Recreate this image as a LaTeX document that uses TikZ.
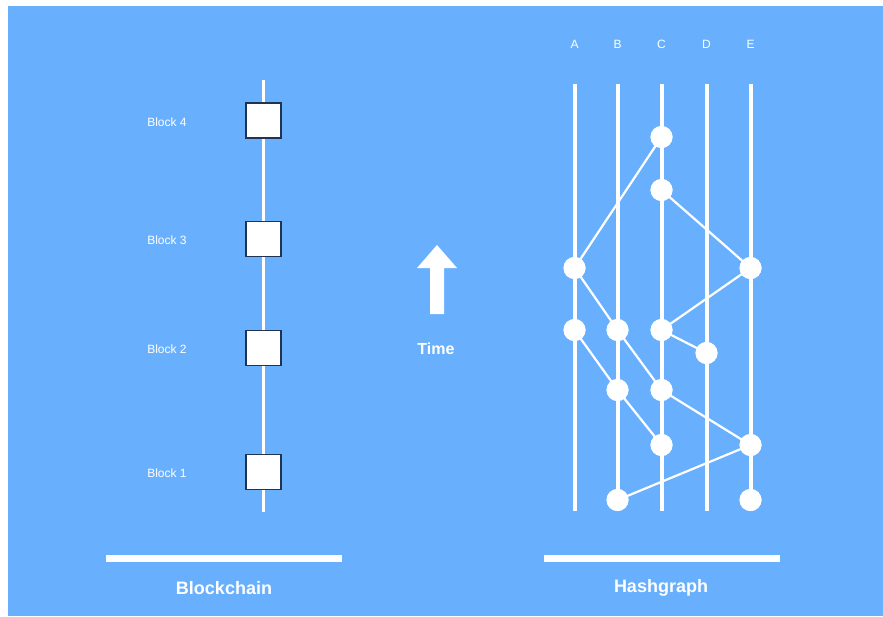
\documentclass[tikz,border=0pt]{standalone}
\usepackage{fontspec}
\setmainfont{Liberation Sans}
\definecolor{skyblue}{HTML}{68B0FE}
\definecolor{boxedge}{HTML}{1E3452}
\begin{document}
\begin{tikzpicture}[x=1pt,y=-1pt,
  lbl/.style={text=white,font=\fontsize{12}{14}\selectfont,inner sep=0pt},
  title/.style={text=white,font=\fontsize{18}{20}\selectfont\bfseries,inner sep=0pt},
  blockbox/.style={draw=boxedge,line width=1.1pt,fill=white,minimum size=35pt,inner sep=0pt},
  chain/.style={draw=white,line width=3.5pt},
  lane/.style={draw=white,line width=4pt},
  evt/.style={circle,fill=white,minimum size=22pt,inner sep=0pt},
  gossip/.style={draw=white,line width=2.2pt},
  bar/.style={fill=white}]
\useasboundingbox (0,0) rectangle (883,616);
\fill[white] (0,0) rectangle (883,616);
\fill[skyblue] (8,6) rectangle (883,616);

% ---- blockchain column ----
\coordinate (chaintop) at (263.5,80);
\coordinate (chainbot) at (263.5,512);
\draw[chain] (chaintop) -- (chainbot);
\node[blockbox] (b4) at (263.5,120.5) {};
\node[blockbox] (b3) at (263.5,239) {};
\node[blockbox] (b2) at (263.5,348) {};
\node[blockbox] (b1) at (263.5,472) {};
\node[lbl] (l4) at (167,122) {Block 4};
\node[lbl] (l3) at (167,240) {Block 3};
\node[lbl] (l2) at (167,349) {Block 2};
\node[lbl] (l1) at (167,473) {Block 1};
\fill[bar] (106,554.5) rectangle (342,561.5);
\node[title] (tbc) at (224,588) {Blockchain};

% ---- time arrow ----
\fill[white] (430,314) -- (430,268) -- (417,268) -- (437,245) -- (457,268) -- (444,268) -- (444,314) -- cycle;
\node[text=white,font=\fontsize{16}{18}\selectfont\bfseries,inner sep=0pt] (time) at (436,349) {Time};

% ---- hashgraph lanes ----
\foreach \n/\x in {A/574.5,B/617.5,C/661.5,D/706.5,E/750.5}{
  \node[lbl] (h\n) at (\x,44) {\n};
  \coordinate (\n top) at (\x,84);
  \coordinate (\n bot) at (\x,511);
  \draw[lane] (\n top) -- (\n bot);
}

% ---- events ----
\node[evt] (c1) at (661.5,137) {};
\node[evt] (c2) at (661.5,190) {};
\node[evt] (a1) at (574.5,268) {};
\node[evt] (e1) at (750.5,268) {};
\node[evt] (a2) at (574.5,330) {};
\node[evt] (b2) at (617.5,330) {};
\node[evt] (c3) at (661.5,330) {};
\node[evt] (d1) at (706.5,353) {};
\node[evt] (b3) at (617.5,390) {};
\node[evt] (c4) at (661.5,390) {};
\node[evt] (c5) at (661.5,445) {};
\node[evt] (e2) at (750.5,445) {};
\node[evt] (b4) at (617.5,500) {};
\node[evt] (e3) at (750.5,500) {};

% ---- gossip syncs ----
\draw[gossip] (a1.center) -- (c1.center);
\draw[gossip] (c2.center) -- (e1.center);
\draw[gossip] (a1.center) -- (b2.center);
\draw[gossip] (e1.center) -- (c3.center);
\draw[gossip] (c3.center) -- (d1.center);
\draw[gossip] (a2.center) -- (b3.center);
\draw[gossip] (b2.center) -- (c4.center);
\draw[gossip] (b3.center) -- (c5.center);
\draw[gossip] (c4.center) -- (e2.center);
\draw[gossip] (e2.center) -- (b4.center);
\foreach \e in {c1,c2,a1,e1,a2,b2,c3,d1,b3,c4,c5,e2,b4,e3}{\fill[white] (\e) circle (11);}

\fill[bar] (544,554.5) rectangle (780,561.5);
\node[title] (thg) at (661,588) {Hashgraph};
\end{tikzpicture}
\end{document}
